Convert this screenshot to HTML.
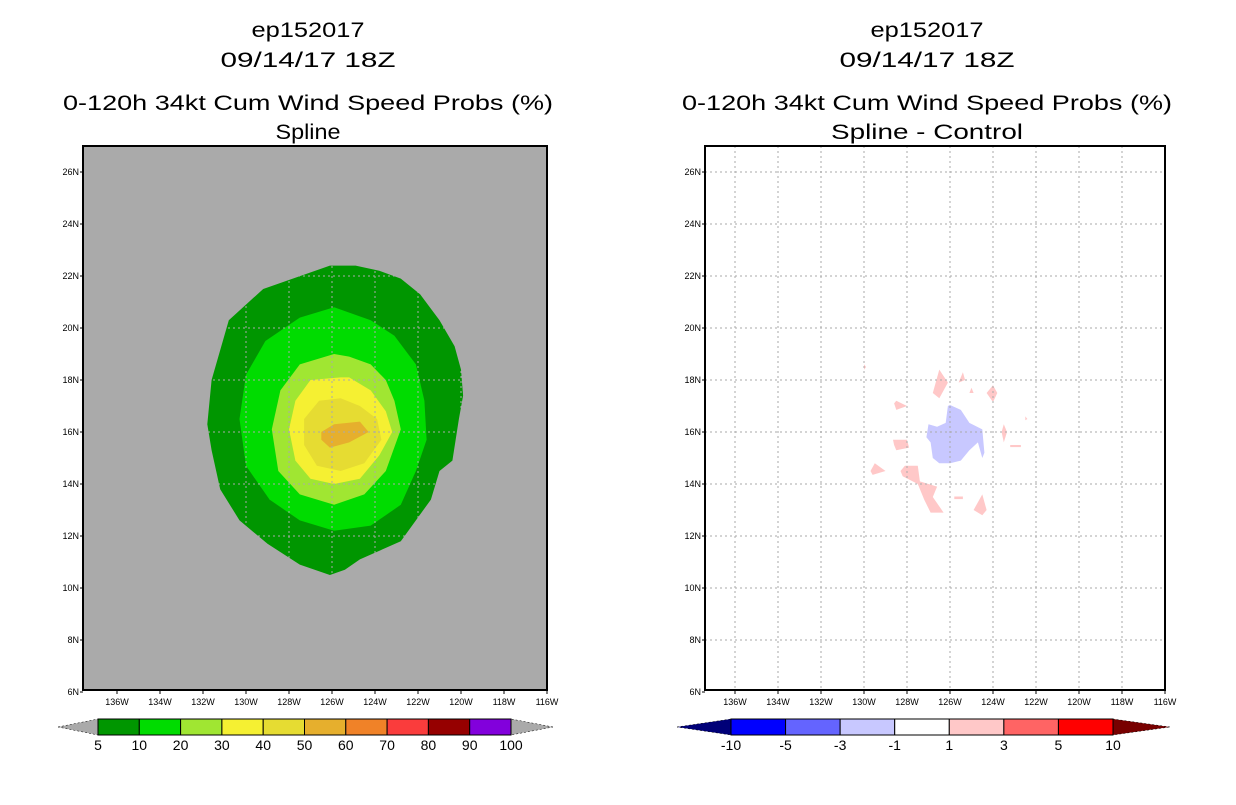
<!DOCTYPE html>
<html><head><meta charset="utf-8">
<style>
body{margin:0;background:#fff;}
svg text{font-family:"Liberation Sans",sans-serif;}
</style></head>
<body>
<svg id="s" width="1236" height="800" xmlns="http://www.w3.org/2000/svg">
<g font-size="21" text-anchor="middle" fill="#000" lengthAdjust="spacingAndGlyphs">
<text x="308" y="37" textLength="113" lengthAdjust="spacingAndGlyphs">ep152017</text>
<text x="308" y="67" textLength="175" lengthAdjust="spacingAndGlyphs">09/14/17 18Z</text>
<text x="308" y="110" textLength="490" lengthAdjust="spacingAndGlyphs">0-120h 34kt Cum Wind Speed Probs (%)</text>
<text x="308" y="139" textLength="65" lengthAdjust="spacingAndGlyphs">Spline</text>
</g>
<g font-size="21" text-anchor="middle" fill="#000">
<text x="927" y="37" textLength="113" lengthAdjust="spacingAndGlyphs">ep152017</text>
<text x="927" y="67" textLength="175" lengthAdjust="spacingAndGlyphs">09/14/17 18Z</text>
<text x="927" y="110" textLength="490" lengthAdjust="spacingAndGlyphs">0-120h 34kt Cum Wind Speed Probs (%)</text>
<text x="927" y="139" textLength="192" lengthAdjust="spacingAndGlyphs">Spline - Control</text>
</g>
<g id="L"></g>
<g id="R"></g>
<g id="CB"></g>
</svg>
<script>
const latTicks=[6,8,10,12,14,16,18,20,22,24,26];
const lonTicks=[136,134,132,130,128,126,124,122,120,118,116];
const probLevels=["5","10","20","30","40","50","60","70","80","90","100"];
const probColors=["#009600","#00dc00","#a0e632","#f5f032","#e6dc32","#e6af2d","#f08228","#fa3c3c","#960000","#8200dc"];
const diffLevels=["-10","-5","-3","-1","1","3","5","10"];
const diffColors=["#0000ff","#6464ff","#c8c8ff","#ffffff","#ffc8c8","#ff6464","#ff0000"];
// contours [lonW, lat]
const c5=[[126.1,22.4],[129.2,21.5],[130.8,20.3],[131.6,18.0],[131.8,16.3],[131.6,15.3],[131.2,13.8],[130.3,12.6],[129.0,11.7],[127.5,10.9],[126.1,10.5],[125.4,10.7],[124.7,11.1],[122.8,11.8],[121.4,13.4],[121.0,14.5],[120.4,14.9],[120.1,16.5],[119.9,17.4],[120.0,18.4],[120.3,19.3],[121.0,20.3],[121.9,21.3],[122.8,21.9],[123.8,22.2],[124.9,22.4]];
const c10=[[125.9,20.8],[127.5,20.4],[129.1,19.5],[130.0,18.2],[130.3,16.5],[130.0,14.7],[128.9,13.4],[127.5,12.6],[125.9,12.2],[124.2,12.4],[122.8,13.2],[122.1,14.5],[121.6,15.7],[121.7,17.2],[122.1,18.6],[123.1,19.7],[124.2,20.3]];
const c20=[[125.9,19.0],[127.5,18.6],[128.4,17.6],[128.8,16.1],[128.5,14.5],[127.5,13.6],[125.9,13.2],[124.5,13.6],[123.5,14.5],[122.8,16.1],[123.1,17.2],[123.5,18.0],[124.2,18.6],[125.2,18.9]];
const c30=[[125.6,18.1],[127.0,18.0],[127.7,17.2],[128.0,16.1],[127.7,14.9],[127.0,14.2],[125.9,14.0],[124.7,14.2],[123.8,15.1],[123.2,16.0],[123.5,16.8],[124.2,17.6],[125.2,18.1]];
const c40=[[125.6,17.3],[126.6,17.2],[127.3,16.5],[127.3,15.5],[126.7,14.7],[125.6,14.5],[124.5,14.8],[123.7,15.7],[123.9,16.5],[124.7,17.0]];
const c50=[[126.5,16.0],[125.9,16.3],[124.7,16.4],[124.3,16.0],[125.2,15.6],[126.1,15.4],[126.5,15.7]];
const probContours=[c5,c10,c20,c30,c40,c50];
const negBlobs=[[[126.0,17.04],[125.5,16.85],[125.1,16.35],[124.5,16.1],[124.4,15.2],[124.5,15.0],[124.7,15.6],[125.1,15.3],[125.5,14.9],[126.0,14.8],[126.5,14.8],[126.8,15.0],[126.9,15.6],[127.1,15.8],[127.0,16.3],[126.6,16.2],[126.2,16.35],[126.1,17.0]]];
const posBlobs=[
[[126.5,18.4],[126.1,17.9],[126.5,17.3],[126.8,17.5]],
[[128.5,17.2],[128.0,17.0],[128.5,16.85],[128.6,17.1]],
[[128.65,15.7],[128.0,15.7],[127.9,15.4],[128.5,15.3],[128.6,15.5]],
[[129.5,14.8],[129.0,14.5],[129.6,14.35],[129.7,14.5]],
[[128.1,14.7],[127.5,14.7],[127.4,14.1],[126.6,13.9],[126.8,13.5],[126.3,12.9],[126.9,12.9],[127.2,13.4],[127.5,14.0],[128.2,14.3],[128.3,14.5]],
[[124.5,13.6],[124.3,13.0],[124.5,12.8],[124.9,13.0]],
[[124.0,17.8],[123.8,17.5],[124.0,17.15],[124.3,17.5]],
[[125.4,18.3],[125.3,18.0],[125.6,17.9]],
[[125.0,17.7],[124.9,17.5],[125.1,17.5]],
[[123.5,16.3],[123.35,16.0],[123.5,15.6],[123.6,16.0]],
[[130.0,18.6],[129.9,18.5],[130.0,18.4]],
[[122.5,16.6],[122.4,16.5],[122.5,16.45]],
[[123.2,15.5],[122.7,15.5],[122.7,15.42],[123.2,15.42]],
[[125.8,13.52],[125.4,13.52],[125.4,13.42],[125.8,13.42]]];

const NS="http://www.w3.org/2000/svg";
function mk(p,t,a){const e=document.createElementNS(NS,t);for(const k in a)e.setAttribute(k,a[k]);p.appendChild(e);return e;}
function yOf(lat){return 432-(lat-16)*26;}
function map(g,x0,left,right,bg,name){
  const xOf=l=>x0+(126-l)*21.5;
  const r=mk(g,'rect',{x:left,y:146,width:right-left,height:544,fill:bg});
  
  
  return xOf;
}
function poly(g,pts,xOf,fill,name){
  const d=pts.map(p=>xOf(p[0]).toFixed(1)+','+yOf(p[1]).toFixed(1)).join(' ');
  const e=mk(g,'polygon',{points:d,fill:fill});
  
  
}
function grid(g,xOf,left,right,name){
  lonTicks.forEach(l=>{const x=xOf(l);
    if(l>116){const e=mk(g,'line',{x1:x,x2:x,y1:146,y2:690,stroke:'#aaa','stroke-dasharray':'2,3'});
      }
    const t=mk(g,'text',{x:x,y:705,'font-size':9,'text-anchor':'middle'});t.textContent=l+'W';
    
    mk(g,'line',{x1:x,x2:x,y1:690,y2:694,stroke:'#000'});
  });
  latTicks.forEach(la=>{const y=yOf(la);
    if(la>6){const e=mk(g,'line',{x1:left,x2:right,y1:y,y2:y,stroke:'#aaa','stroke-dasharray':'2,3'});
      }
    const t=mk(g,'text',{x:left-4,y:y+3,'font-size':9,'text-anchor':'end'});t.textContent=la+'N';
    
    mk(g,'line',{x1:left-3,x2:left,y1:y,y2:y,stroke:'#000'});
  });
  const b=mk(g,'rect',{x:left,y:146,width:right-left,height:544,fill:'none',stroke:'#000','stroke-width':2});
  
}
const L=document.getElementById('L'),R=document.getElementById('R');
const xl=map(L,332,83,547,'#aaaaaa','left-map');
probContours.forEach((c,i)=>poly(L,c,xl,probColors[i],'prob-contour-'+probLevels[i]));
grid(L,xl,83,547,'left');
const xr=map(R,950,705,1165,'#ffffff','right-map');
negBlobs.forEach(c=>poly(R,c,xr,diffColors[2],'diff-negative-area'));
posBlobs.forEach(c=>poly(R,c,xr,diffColors[4],'diff-positive-area'));
grid(R,xr,705,1165,'right');

const CB=document.getElementById('CB');
function cbar(x0,x1,tipL,tipR,cols,labs,lc,rc,name){
  const n=cols.length,w=(x1-x0)/n;
  const a=mk(CB,'polygon',{points:`${tipL},727 ${x0},719 ${x0},735`,fill:lc,stroke:'#000','stroke-width':0.5,'stroke-dasharray':'2,2'});
  
  const b=mk(CB,'polygon',{points:`${tipR},727 ${x1},719 ${x1},735`,fill:rc,stroke:'#000','stroke-width':0.5,'stroke-dasharray':'2,2'});
  
  cols.forEach((c,i)=>{const r=mk(CB,'rect',{x:x0+i*w,y:719,width:w,height:16,fill:c,stroke:'#000','stroke-width':1});
    });
  labs.forEach((l,i)=>{const t=mk(CB,'text',{x:x0+i*w,y:750,'font-size':14,'text-anchor':'middle'});t.textContent=l;
    });
}
cbar(98,511,58,553,probColors,probLevels,'#aaaaaa','#aaaaaa','prob-colorbar');
cbar(731,1113,677,1170,diffColors,diffLevels,'#000078','#780000','diff-colorbar');
</script>
</body></html>
